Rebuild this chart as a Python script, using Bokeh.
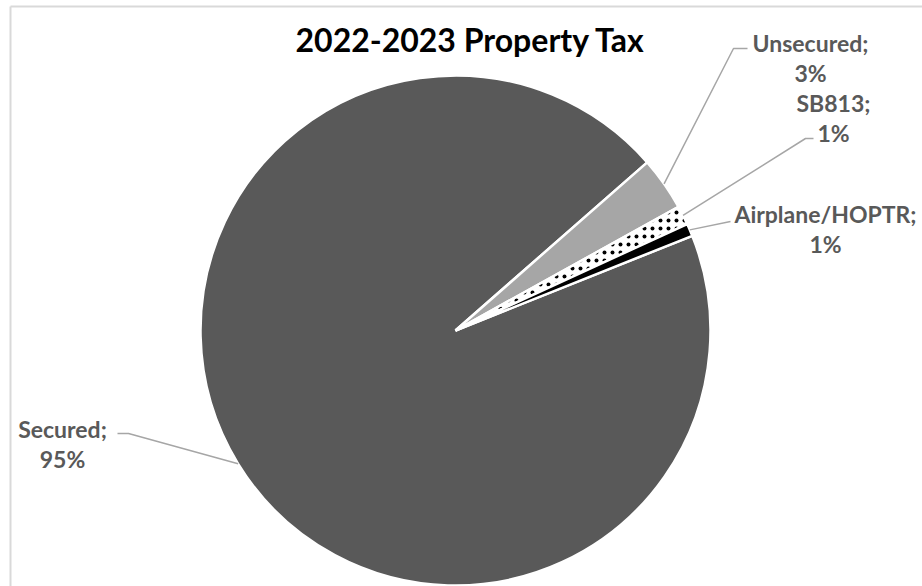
import numpy as np
from bokeh.plotting import figure
from bokeh.models import Range1d, ColumnDataSource
from bokeh.embed import file_html
from bokeh.resources import INLINE
from bokeh.core.properties import value

# ---- data ----
title = "2022-2023 Property Tax"
categories = ["Secured", "Unsecured", "SB813", "Airplane/HOPTR"]
shares = [94.6, 3.4, 1.2, 0.8]

# ---- styles / layout ----
colors = ["#595959", "#a6a6a6", "#ffffff", "#000000"]
hatches = [" ", " ", "dot", " "]
W, H = 922, 586
CX, CY_PX, R = 455, 330, 255
START_DEG = 21.8  # first slice angle (counter-clockwise from 3 o'clock)
FONT = "Lato"

# label first-line centres (pixel coords, y down), leader elbow + end
label_xy = [(62, 428), (810, 42), (833, 102), (825, 213)]
line_gap = 30
leader_elbow = [(128, 433), (733, 48), (805, 138), (730, 221)]
leader_end = [(117, 433), (747, 48), (813, 138), (730, 221)]


def Y(y):
    return H - y


total = float(sum(shares))
frac = np.array(shares) / total
cum = np.concatenate([[0.0], np.cumsum(frac)])
start = np.deg2rad(START_DEG) - cum[:-1] * 2 * np.pi
end = np.deg2rad(START_DEG) - cum[1:] * 2 * np.pi
mid = (start + end) / 2
CY = Y(CY_PX)

p = figure(width=W, height=H, x_range=Range1d(0, W), y_range=Range1d(0, H),
           output_backend="svg", toolbar_location=None, min_border=0)
p.axis.visible = False
p.grid.visible = False
p.outline_line_color = None
p.background_fill_color = "white"
p.border_fill_color = "white"

# chart border (light gray)
p.line([10, 10], [Y(6), Y(H + 5)], line_color="#d9d9d9", line_width=2)
p.line([10, W + 5], [Y(6), Y(6)], line_color="#d9d9d9", line_width=2)

src = ColumnDataSource(dict(start=start, end=end, color=colors, hatch=hatches,
                            cat=categories))
p.wedge(x=CX, y=CY, radius=R, start_angle="start", end_angle="end",
        direction="clock", fill_color="color", line_color="white", line_width=2.5,
        hatch_pattern="hatch", hatch_color="black", hatch_scale=8, hatch_weight=0.5,
        source=src)

# leader lines
for i in range(len(categories)):
    sx = CX + R * np.cos(mid[i])
    sy = CY + R * np.sin(mid[i])
    ex, ey = leader_elbow[i]
    fx, fy = leader_end[i]
    p.line([sx, ex, fx], [sy, Y(ey), Y(fy)], line_color="#a6a6a6", line_width=1.5)

pct = [f"{round(s / total * 100):.0f}%" for s in shares]
names = [c + ";" for c in categories]
lx = [xy[0] for xy in label_xy]
ly1 = [Y(xy[1]) for xy in label_xy]
ly2 = [Y(xy[1] + line_gap) for xy in label_xy]
p.text(x=lx, y=ly1, text=names, text_font=value(FONT), text_font_style="bold",
       text_font_size="23px", text_color="#595959", text_align="center",
       text_baseline="middle")
p.text(x=lx, y=ly2, text=pct, text_font=value(FONT), text_font_style="bold",
       text_font_size="23px", text_color="#595959", text_align="center",
       text_baseline="middle")

p.text(x=[470], y=[Y(39)], text=[title], text_font=value(FONT), text_font_style="bold",
       text_font_size="32px", text_color="#000000", text_align="center",
       text_baseline="middle")

open("out.html", "w").write(file_html(p, INLINE))
